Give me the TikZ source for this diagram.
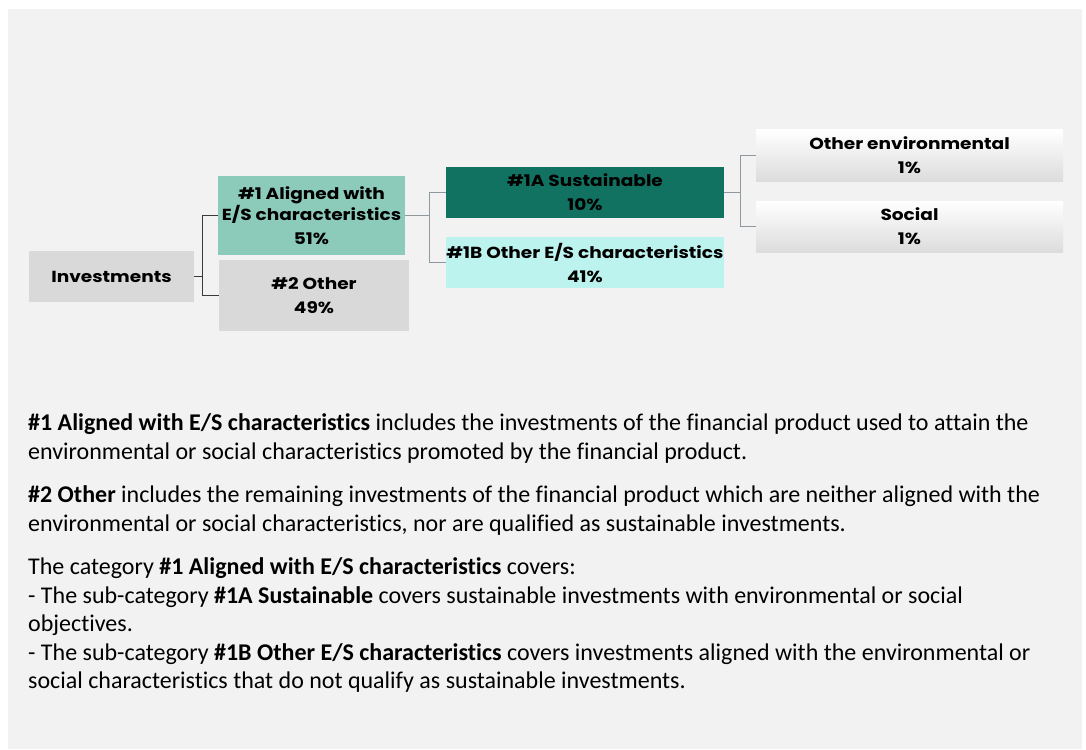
\documentclass[tikz,border=0pt]{standalone}
\usepackage{fontspec}
\setmainfont{Carlito}[Ligatures=NoCommon]
\newfontfamily\boxfont{Poppins}[FakeStretch=1.16]
\definecolor{pagebg}{HTML}{F2F2F2}
\definecolor{boxgray}{HTML}{D9D9D9}
\definecolor{alignedgreen}{HTML}{8CCBBA}
\definecolor{sustteal}{HTML}{127262}
\definecolor{othercyan}{HTML}{BDF3EE}
\definecolor{linkdark}{HTML}{3A3A3A}
\definecolor{linkgray}{HTML}{8F999D}
\definecolor{fadegray}{HTML}{DCDCDC}

\begin{document}
\begin{tikzpicture}[x=1pt,y=-1pt,
    box/.style={minimum height=51pt, inner sep=0pt, align=center,
      font=\boxfont\bfseries\fontsize{16}{17}\selectfont},
    fadebox/.style={box, top color=white, middle color=white, bottom color=fadegray},
    para/.style={anchor=north west, inner sep=0pt, align=left,
      font=\fontsize{24}{28.5}\selectfont}]
    \useasboundingbox (0,0) rectangle (1086,749);
    % Page background
    \fill[pagebg] (8,9) rectangle (1082,749);
    % Allocation boxes
    \node[box, fill=boxgray, minimum width=165pt] (inv) at (111.5,276.5) {Investments};
    \node[box, fill=alignedgreen, minimum width=187pt, minimum height=79pt] (aligned) at (311.5,215.5)
        {\#1 Aligned with\\E/S characteristics\\[7pt]51\%};
    \node[box, fill=boxgray, minimum width=190pt, minimum height=71pt] (other) at (314,295.5)
        {\#2 Other\\[7pt]49\%};
    \node[box, fill=sustteal, minimum width=278pt] (sust) at (585,192.5) {\#1A Sustainable\\[7pt]10\%};
    \node[box, fill=othercyan, minimum width=278pt] (otheres) at (585,262.5)
        {\#1B Other E/S characteristics\\[7pt]41\%};
    \node[fadebox, minimum width=307pt] (env) at (909.5,155.5) {Other environmental\\[7pt]1\%};
    \node[fadebox, minimum width=307pt] (social) at (909.5,226.5) {Social\\[7pt]1\%};
    % Connectors
    \draw[linkdark, line width=1.2pt] (inv.east) -- ++(8,0) coordinate (j0) |- (aligned.west);
    \draw[linkdark, line width=1.2pt] (j0) |- (other.west);
    \draw[linkgray, line width=1.2pt] (aligned.east) -- ++(24,0) coordinate (j1) |- (sust.west);
    \draw[linkgray, line width=1.2pt] (j1) |- (otheres.west);
    \draw[linkgray, line width=1.2pt] (sust.east) -- ++(16,0) coordinate (j2) |- (env.west);
    \draw[linkgray, line width=1.2pt] (j2) |- (social.west);
    % Explanations
    \node[para] (p1) at (28,413.5) {\textbf{\#1 Aligned with E/S characteristics} includes the investments of the financial product used to attain the\\
        environmental or social characteristics promoted by the financial product.};
    \node[para] (p2) at (28,485.5) {\textbf{\#2 Other} includes the remaining investments of the financial product which are neither aligned with the\\
        environmental or social characteristics, nor are qualified as sustainable investments.};
    \node[para] (p3) at (28,557.5) {The category \textbf{\#1 Aligned with E/S characteristics} covers:\\
        - The sub-category \textbf{\#1A Sustainable} covers sustainable investments with environmental or social\\
        objectives.\\
        - The sub-category \textbf{\#1B Other E/S characteristics} covers investments aligned with the environmental or\\
        social characteristics that do not qualify as sustainable investments.};
\end{tikzpicture}
\end{document}
